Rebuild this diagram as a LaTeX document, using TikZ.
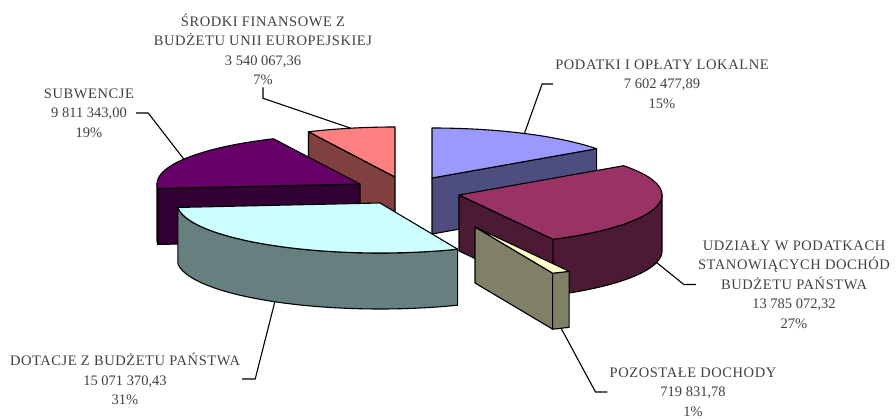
\documentclass[tikz,border=0pt]{standalone}
\usepackage{fontspec}
\setmainfont{Liberation Serif}
\newfontfamily\capsfont[LetterSpace=4]{Liberation Serif}
\definecolor{blueT}{HTML}{9999FF}\definecolor{blueS}{HTML}{4D4D80}
\definecolor{magT}{HTML}{993366}\definecolor{magS}{HTML}{4D1A33}
\definecolor{yelT}{HTML}{FFFFCC}\definecolor{yelS}{HTML}{808066}
\definecolor{cyaT}{HTML}{CCFFFF}\definecolor{cyaS}{HTML}{668080}
\definecolor{purT}{HTML}{660066}\definecolor{purS}{HTML}{330033}
\definecolor{salT}{HTML}{FF8080}\definecolor{salS}{HTML}{804040}
\definecolor{labtxt}{HTML}{404040}
% top face of a slice: centre (#1,#2), angles #3..#4 (clockwise from back)
\newcommand\PieTop[5]{\filldraw[pie,fill=#5] (#1,#2) -- plot[domain=#3:#4] ({#1+203*sin(\x)},{#2-50*cos(\x)}) -- cycle;}
% radial side face at angle #3
\newcommand\PieRad[4]{\filldraw[pie,fill=#4] (#1,#2) -- ({#1+203*sin(#3)},{#2-50*cos(#3)}) -- ({#1+203*sin(#3)},{#2+56-50*cos(#3)}) -- ({#1},{#2+56}) -- cycle;}
% outer curved side face from #3 to #4
\newcommand\PieArc[5]{\filldraw[pie,fill=#5] plot[domain=#3:#4] ({#1+203*sin(\x)},{#2-50*cos(\x)}) -- plot[domain=#4:#3] ({#1+203*sin(\x)},{#2+56-50*cos(\x)}) -- cycle;}
\newcommand\Cp[1]{{\capsfont #1}}
\begin{document}
\begin{tikzpicture}[x=1pt,y=-1pt,samples=60,
  pie/.style={draw=black,line width=1.1pt,line join=round},
  lab/.style={align=center,text=labtxt,inner sep=2pt,font=\fontsize{14.5}{19.5}\selectfont},
  leader/.style={draw=black,line width=1.1pt}]
\useasboundingbox (0,0) rectangle (896,419);
% salmon (Srodki)
\PieRad{395}{177}{334.77}{salS}
\PieTop{395}{177}{334.77}{360}{salT}
% blue (Podatki)
\PieRad{432}{178}{54.16}{blueS}
\PieTop{432}{178}{0}{54.16}{blueT}
% purple (Subwencje)
\PieArc{360}{184}{264.87}{270}{purS}
\PieRad{360}{184}{264.87}{purS}
\PieTop{360}{184}{264.87}{334.77}{purT}
% magenta (Udzialy)
\PieRad{459}{195}{152.37}{magS}
\PieArc{459}{195}{90}{152.37}{magS}
\PieTop{459}{195}{54.16}{152.37}{magT}
% cyan (Dotacje)
\PieArc{380}{203}{157.5}{264.87}{cyaS}
\PieTop{380}{203}{157.5}{264.87}{cyaT}
% yellow (Pozostale)
\PieRad{475}{227}{157.5}{yelS}
\PieArc{475}{227}{152.37}{157.5}{yelS}
\PieTop{475}{227}{152.37}{157.5}{yelT}
% leader targets
\coordinate (sal-m) at ({395+203*sin(347.4)},{177-50*cos(347.4)});
\coordinate (blu-m) at ({432+203*sin(27.08)},{178-50*cos(27.08)});
\coordinate (mag-m) at ({459+203*sin(103.3)},{195+56-50*cos(103.3)});
\coordinate (yel-m) at ({475+203*sin(154.9)},{227+56-50*cos(154.9)});
\coordinate (cya-m) at ({380+203*sin(211.2)},{203+56-50*cos(211.2)});
\coordinate (pur-m) at ({360+203*sin(299.8)},{184-50*cos(299.8)});
% labels
\node[lab] (srod) at (263,49.5) {\Cp{ŚRODKI FINANSOWE Z}\\\Cp{BUDŻETU UNII EUROPEJSKIEJ}\\3 540 067,36\\7\%};
\node[lab] (pod) at (662,84) {\Cp{PODATKI I OPŁATY LOKALNE}\\7 602 477,89\\15\%};
\node[lab] (udz) at (794,284.5) {\Cp{UDZIAŁY W PODATKACH}\\\Cp{STANOWIĄCYCH DOCHÓD}\\\Cp{BUDŻETU PAŃSTWA}\\13 785 072,32\\27\%};
\node[lab] (poz) at (693,392) {\Cp{POZOSTAŁE DOCHODY}\\719 831,78\\1\%};
\node[lab] (dot) at (125,379) {\Cp{DOTACJE Z BUDŻETU PAŃSTWA}\\15 071 370,43\\31\%};
\node[lab] (sub) at (89,113) {\Cp{SUBWENCJE}\\9 811 343,00\\19\%};
% leaders
\draw[leader] (srod.south) -- ++(0,11) -- (sal-m);
\draw[leader] (pod.west) -- ++(-11,0) -- (blu-m);
\draw[leader] (udz.west) -- ++(-12,0) -- (mag-m);
\draw[leader] (poz.west) -- ++(-12,0) -- (yel-m);
\draw[leader] (dot.east) -- ++(13,0) -- (cya-m);
\draw[leader] (sub.east) -- ++(12,0) -- (pur-m);
\end{tikzpicture}
\end{document}
